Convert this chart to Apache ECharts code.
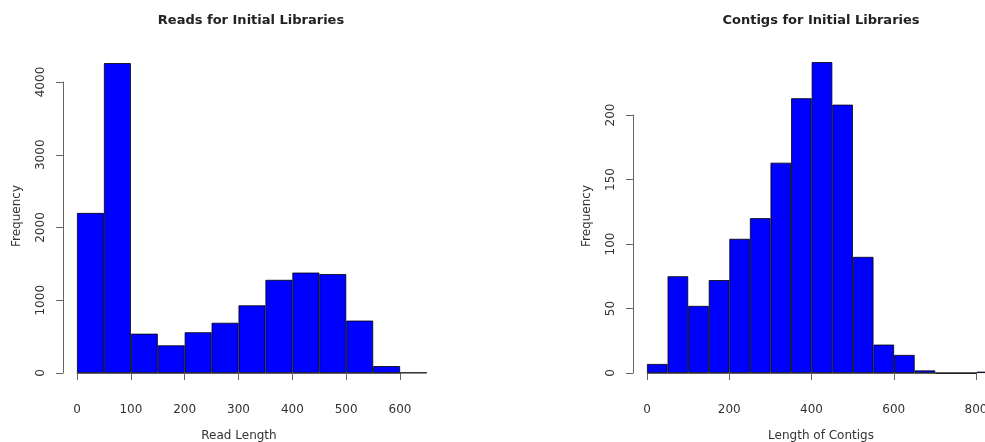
<!DOCTYPE html>
<html>
<head>
<meta charset="utf-8">
<script src="https://cdn.jsdelivr.net/npm/echarts@6/dist/echarts.min.js"></script>
<style>
html,body{margin:0;padding:0;background:#fff;}
#chart{width:985px;height:442px;}
</style>
</head>
<body>
<div id="chart"></div>
<script>
// ---- Data ----
const readBins = ['0','50','100','150','200','250','300','350','400','450','500','550','600'];
const readFreq = [2200, 4260, 540, 380, 560, 690, 930, 1280, 1380, 1360, 720, 95, 5];
const contigBins = ['0','50','100','150','200','250','300','350','400','450','500','550','600','650','700','750','800'];
const contigFreq = [7, 75, 52, 72, 104, 120, 163, 213, 241, 208, 90, 22, 14, 2, 0, 0, 1];
const readTicksMax = 600, readTickStep = 100;
const contigTicksMax = 800, contigTickStep = 200;
const readYMax = 4000, readYStep = 1000;
const contigYMax = 200, contigYStep = 50;

const titles = ['Reads for Initial Libraries', 'Contigs for Initial Libraries'];
const xNames = ['Read Length', 'Length of Contigs'];
const yName = 'Frequency';

const FONT = 'DejaVu Sans';
const axisColor = '#666';
const textColor = '#333';

const chart = echarts.init(document.getElementById('chart'), null, {renderer: 'canvas'});

function shownX(gridIndex, max, step) {
  return {
    gridIndex, type: 'value', min: 0, max, interval: step,
    offset: 13,
    axisLine: {show: true, lineStyle: {color: axisColor, width: 1}},
    axisTick: {show: true, length: 7, lineStyle: {color: axisColor, width: 1}},
    axisLabel: {show: true, margin: 18, color: textColor, fontFamily: FONT, fontSize: 12,
                formatter: v => String(v)},
    splitLine: {show: false}
  };
}
function shownY(gridIndex, max, step) {
  return {
    gridIndex, type: 'value', min: 0, max, interval: step,
    offset: 14,
    axisLine: {show: true, lineStyle: {color: axisColor, width: 1}},
    axisTick: {show: true, length: 7, lineStyle: {color: axisColor, width: 1}},
    axisLabel: {show: true, rotate: 90, margin: 16, color: textColor, fontFamily: FONT, fontSize: 12,
                formatter: v => String(v)},
    splitLine: {show: false}
  };
}
function hiddenCat(gridIndex, data) {
  return {gridIndex, type: 'category', data, boundaryGap: true, show: false};
}
function hiddenVal(gridIndex, max) {
  return {gridIndex, type: 'value', min: 0, max, show: false, splitLine: {show: false}};
}

const barStyle = {color: '#0000ff', borderColor: '#000', borderWidth: 0.8};

chart.setOption({
  animation: false,
  backgroundColor: '#fff',
  grid: [
    {left: 77, top: 82, width: 350, height: 291, outerBoundsMode: 'none', containLabel: false},
    {left: 77, top: 82, width: 323, height: 291, outerBoundsMode: 'none', containLabel: false},
    {left: 647, top: 115, width: 350, height: 258, outerBoundsMode: 'none', containLabel: false},
    {left: 647, top: 115, width: 329, height: 258, outerBoundsMode: 'none', containLabel: false}
  ],
  xAxis: [
    hiddenCat(0, readBins),
    shownX(1, readTicksMax, readTickStep),
    hiddenCat(2, contigBins),
    shownX(3, contigTicksMax, contigTickStep)
  ],
  yAxis: [
    shownY(0, readYMax, readYStep),
    hiddenVal(1, readYMax),
    shownY(2, contigYMax, contigYStep),
    hiddenVal(3, contigYMax)
  ],
  series: [
    {type: 'bar', xAxisIndex: 0, yAxisIndex: 0, data: readFreq, barCategoryGap: '0%', clip: false, itemStyle: barStyle, silent: true},
    {type: 'bar', xAxisIndex: 2, yAxisIndex: 2, data: contigFreq, barCategoryGap: '0%', clip: false, itemStyle: barStyle, silent: true}
  ],
  graphic: [
    {type: 'text', x: 251, y: 21, style: {text: titles[0], font: 'bold 13px "DejaVu Sans"', fill: '#222', textAlign: 'center', textVerticalAlign: 'middle'}},
    {type: 'text', x: 821, y: 21, style: {text: titles[1], font: 'bold 13px "DejaVu Sans"', fill: '#222', textAlign: 'center', textVerticalAlign: 'middle'}},
    {type: 'text', x: 239, y: 436, style: {text: xNames[0], font: '12px "DejaVu Sans"', fill: textColor, textAlign: 'center', textVerticalAlign: 'middle'}},
    {type: 'text', x: 821, y: 436, style: {text: xNames[1], font: '12px "DejaVu Sans"', fill: textColor, textAlign: 'center', textVerticalAlign: 'middle'}},
    {type: 'text', x: 17, y: 216, rotation: Math.PI / 2, style: {text: yName, font: '12px "DejaVu Sans"', fill: textColor, textAlign: 'center', textVerticalAlign: 'middle'}},
    {type: 'text', x: 587, y: 216, rotation: Math.PI / 2, style: {text: yName, font: '12px "DejaVu Sans"', fill: textColor, textAlign: 'center', textVerticalAlign: 'middle'}}
  ]
});
</script>
</body>
</html>
